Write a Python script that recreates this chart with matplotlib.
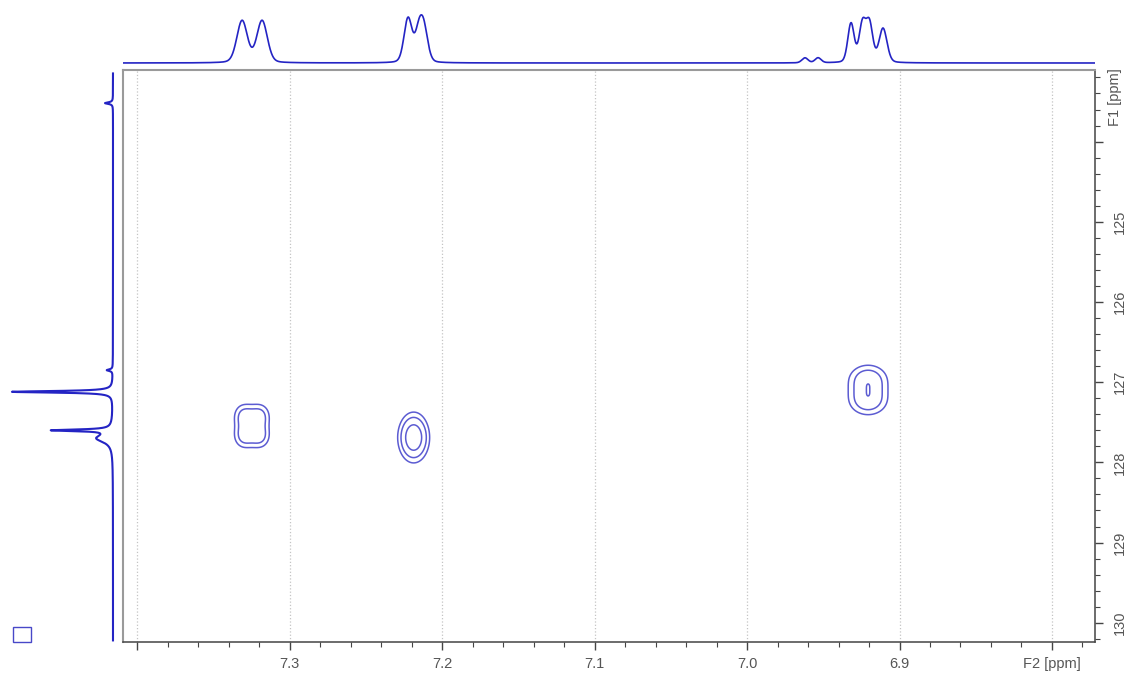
import numpy as np
import matplotlib.pyplot as plt
from matplotlib.patches import Rectangle

# 1H projection (top trace): line positions [ppm], heights, gaussian widths [ppm]
h_shift = [7.3311, 7.3180, 7.2223, 7.2151, 7.2118, 6.9620, 6.9534,
           6.9318, 6.9243, 6.9197, 6.9108]
h_height = [42, 42, 44, 29, 29, 5, 5, 39, 38, 38, 34]
h_width = [0.00345, 0.00345, 0.00262, 0.00262, 0.00262, 0.0020, 0.0020,
           0.0021, 0.0022, 0.0022, 0.0026]
eta = 0.2  # lorentzian share of the line shape

# 13C projection (left trace)
c_shift = [123.52, 126.85, 127.12, 127.60, 127.70]
c_height = [8, 6, 101, 58, 16]
c_hwhm = [0.012, 0.012, 0.012, 0.012, 0.06]

# HSQC cross peaks, one row per gaussian component
xp_f2 = [7.3299, 7.3195, 7.3299, 7.3195, 7.2186, 6.9206, 6.9206]
xp_f1 = [127.421, 127.421, 127.671, 127.671, 127.69, 126.965, 127.229]
xp_w2 = [0.0049, 0.0049, 0.0049, 0.0049, 0.00622, 0.0089, 0.0089]
xp_w1 = [0.112, 0.112, 0.112, 0.112, 0.188, 0.132, 0.132]
xp_amp = [2.0, 2.0, 2.0, 2.0, 4.135, 2.41, 2.41]
levels = [1.0, 1.7, 2.9]

f2_ticks = [7.4, 7.3, 7.2, 7.1, 7.0, 6.9, 6.8]
f2_labels = ['', '7.3', '7.2', '7.1', '7.0', '6.9', 'F2 [ppm]']
f1_ticks = [124, 125, 126, 127, 128, 129, 130]
f1_labels = ['', '125', '126', '127', '128', '129', '130']

F2_LIM = (7.4092, 6.7718)
F1_LIM = (130.24, 123.107)

trace_col = '#2424c4'
cont_col = '#5c5cd2'
tick_col = '#555555'

plt.rcParams['font.family'] = ['Liberation Sans', 'DejaVu Sans']

fig = plt.figure(figsize=(11.3, 6.73), dpi=100)
W, H = 1130, 673

ax = fig.add_axes([123 / W, 1 - 642 / H, (1095 - 123) / W, (642 - 70) / H])
ax_top = fig.add_axes([123 / W, 1 - 68 / H, (1095 - 123) / W, 63 / H])
ax_left = fig.add_axes([0, 1 - 642 / H, 123 / W, (642 - 70) / H])

# contours
f2 = np.linspace(6.77, 7.41, 1400)
f1 = np.linspace(123.1, 130.25, 1100)
X, Y = np.meshgrid(f2, f1)
Z = np.zeros_like(X)
for c2, c1, w2, w1, a in zip(xp_f2, xp_f1, xp_w2, xp_w1, xp_amp):
    Z += a * np.exp(-(X - c2) ** 2 / (2 * w2 ** 2) - (Y - c1) ** 2 / (2 * w1 ** 2))
ax.contour(X, Y, Z, levels=levels, colors=cont_col, linewidths=1.1)

ax.set_xlim(*F2_LIM)
ax.set_ylim(*F1_LIM)
ax.set_xticks(f2_ticks)
ax.set_xticklabels(f2_labels)
ax.set_xticks(np.arange(6.78, 7.41, 0.02), minor=True)
ax.yaxis.tick_right()
ax.set_yticks(f1_ticks)
ax.set_yticklabels(f1_labels, rotation=90, va='center')
ax.set_yticks(np.arange(123.2, 130.21, 0.2), minor=True)
ax.tick_params(which='major', direction='out', length=6, width=1,
               colors='#444444', labelcolor=tick_col, labelsize=10.5, pad=5)
ax.tick_params(which='minor', direction='out', length=3.5, width=0.8, colors='#444444')
ax.tick_params(axis='y', pad=7)
ax.grid(axis='x', which='major', linestyle=':', color='#c4c4c4', linewidth=0.9)
for side in ['top', 'left']:
    ax.spines[side].set_color('#9a9a9a')
    ax.spines[side].set_linewidth(1.5)
for side in ['bottom', 'right']:
    ax.spines[side].set_color('#444444')
    ax.spines[side].set_linewidth(1.1)
ax.text(1.0 + 20 / 972, 123.45, 'F1 [ppm]', transform=ax.get_yaxis_transform(),
        rotation=90, ha='center', va='center', fontsize=10.5, color=tick_col)

# 1H projection
x1 = np.linspace(F2_LIM[0], F2_LIM[1], 4000)
y1 = np.zeros_like(x1)
for s, h, w in zip(h_shift, h_height, h_width):
    gauss = np.exp(-(x1 - s) ** 2 / (2 * w ** 2))
    lor = 1 / (1 + ((x1 - s) / (1.177 * w)) ** 2)
    y1 += h * ((1 - eta) * gauss + eta * lor)
ax_top.plot(x1, y1, color=trace_col, lw=1.2)
ax_top.set_xlim(*F2_LIM)
ax_top.set_ylim(-5, 58)
ax_top.axis('off')

# 13C projection
yc = np.linspace(123.15, 130.22, 6000)
xc = np.zeros_like(yc)
for s, h, g in zip(c_shift, c_height, c_hwhm):
    xc += h / (1 + ((yc - s) / g) ** 2)
ax_left.plot(xc, yc, color=trace_col, lw=1.5)
ax_left.set_xlim(113, -10)
ax_left.set_ylim(*F1_LIM)
ax_left.axis('off')

fig.patches.append(Rectangle((13 / W, 1 - 642 / H), 18 / W, 15 / H,
                             transform=fig.transFigure, fill=False,
                             edgecolor='#4848c8', lw=1.0))

fig.savefig('out.png', dpi=100)
